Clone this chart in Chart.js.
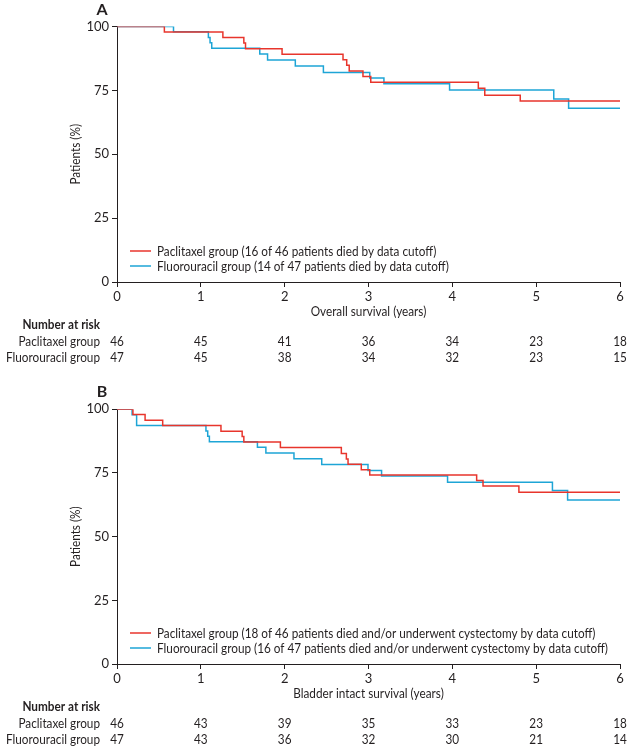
<!DOCTYPE html>
<html>
<head>
<meta charset="utf-8">
<script src="https://cdn.jsdelivr.net/npm/chart.js@4.4.0/dist/chart.umd.min.js"></script>
<style>
  body { margin: 0; background: #fff; width: 630px; height: 750px; overflow: hidden; }
  .panel { position: absolute; left: 0; width: 630px; height: 375px; }
</style>
</head>
<body>
<div class="panel" style="top:0"><canvas id="chartA" width="630" height="375"></canvas></div>
<div class="panel" style="top:375px"><canvas id="chartB" width="630" height="375"></canvas></div>
<script>
// years on the x axis, also the positions of the risk table columns
const years = [0, 1, 2, 3, 4, 5, 6];
const groups = ['Paclitaxel group', 'Fluorouracil group'];

// A: overall survival (time in years, % surviving after the step)
const osPacTime = [0, 0.565, 1.263, 1.513, 1.533, 1.969, 2.696, 2.74, 2.77, 2.934, 3.027, 4.31, 4.387, 4.81, 6];
const osPacPct  = [100, 97.8, 95.7, 93.5, 91.3, 89.1, 87.0, 84.8, 82.6, 80.4, 78.2, 75.8, 73.1, 70.8, 70.8];
const osFluTime = [0, 0.674, 1.09, 1.11, 1.13, 1.703, 1.796, 2.127, 2.462, 3.015, 3.184, 3.967, 5.21, 5.387, 6];
const osFluPct  = [100, 97.9, 95.7, 93.6, 91.5, 89.2, 86.9, 84.5, 82.0, 79.8, 77.6, 75.1, 71.6, 68.0, 68.0];
const osRiskPac = [46, 45, 41, 36, 34, 23, 18];
const osRiskFlu = [47, 45, 38, 34, 32, 23, 15];
const osLegend = [
  'Paclitaxel group (16 of 46 patients died by data cutoff)',
  'Fluorouracil group (14 of 47 patients died by data cutoff)'
];

// B: bladder intact survival
const biPacTime = [0, 0.19, 0.335, 0.545, 1.24, 1.493, 1.513, 1.949, 2.676, 2.736, 2.756, 2.914, 3.015, 4.29, 4.366, 4.794, 6];
const biPacPct  = [100, 98.0, 95.7, 93.6, 91.4, 89.3, 87.2, 85.0, 82.6, 80.5, 78.4, 76.3, 74.2, 72.0, 69.9, 67.4, 67.4];
const biFluTime = [0, 0.18, 0.234, 1.061, 1.082, 1.102, 1.675, 1.776, 2.111, 2.442, 2.994, 3.156, 3.943, 5.194, 5.375, 6];
const biFluPct  = [100, 97.9, 93.6, 91.5, 89.4, 87.3, 85.1, 82.8, 80.6, 78.3, 76.0, 73.8, 71.4, 68.1, 64.4, 64.4];
const biRiskPac = [46, 43, 39, 35, 33, 23, 18];
const biRiskFlu = [47, 43, 36, 32, 30, 21, 14];
const biLegend = [
  'Paclitaxel group (18 of 46 patients died and/or underwent cystectomy by data cutoff)',
  'Fluorouracil group (16 of 47 patients died and/or underwent cystectomy by data cutoff)'
];

const RED = '#e8352c';
const BLUE = '#1ea5d6';
const INK = '#231f20';
const FONT = 'Lato, sans-serif';
const FS = 14;
const SQUEEZE = 0.84; // the original uses a condensed face

function toPoints(times, pct) {
  return times.map((t, i) => ({ x: t, y: pct[i] }));
}

// text drawn a bit narrower, like a condensed font
function narrowText(ctx, txt, x, y, rot) {
  ctx.save();
  ctx.translate(x, y);
  if (rot) ctx.rotate(rot);
  ctx.scale(SQUEEZE, 1);
  ctx.fillText(txt, 0, 0);
  ctx.restore();
}

// draws letter, axis titles, legend and the number-at-risk table
const kmExtras = {
  id: 'kmExtras',
  afterDraw(chart, args, opts) {
    const { ctx, chartArea: { left, right, top, bottom }, scales: { x } } = chart;
    ctx.save();
    ctx.fillStyle = INK;
    ctx.textBaseline = 'middle';

    ctx.font = `bold 16px ${FONT}`;
    ctx.textAlign = 'center';
    ctx.fillText(opts.letter, 102, top - 17);

    ctx.font = `${FS}px ${FONT}`;
    narrowText(ctx, 'Patients (%)', 75, (top + bottom) / 2, -Math.PI / 2);
    narrowText(ctx, opts.xTitle, (left + right) / 2, bottom + 29);

    // legend inside the plot
    ctx.textAlign = 'left';
    const colors = [RED, BLUE];
    opts.legend.forEach((txt, i) => {
      const y = bottom - 31 + i * 15;
      ctx.strokeStyle = colors[i];
      ctx.lineWidth = 1.5;
      ctx.beginPath();
      ctx.moveTo(130, y);
      ctx.lineTo(151, y);
      ctx.stroke();
      narrowText(ctx, txt, 157, y);
    });

    // number at risk
    ctx.textAlign = 'right';
    ctx.font = `bold ${FS}px ${FONT}`;
    narrowText(ctx, 'Number at risk', 100, bottom + 42);
    ctx.font = `${FS}px ${FONT}`;
    const rows = [opts.riskPac, opts.riskFlu];
    rows.forEach((row, r) => {
      const y = bottom + 59 + r * 16;
      ctx.textAlign = 'right';
      narrowText(ctx, groups[r], 100, y);
      ctx.textAlign = 'center';
      row.forEach((n, i) => narrowText(ctx, String(n), x.getPixelForValue(years[i]), y));
    });
    ctx.restore();
  }
};

function makePanel(id, cfg) {
  return new Chart(document.getElementById(id), {
    type: 'line',
    data: {
      datasets: [
        { label: groups[0], data: toPoints(cfg.pacTime, cfg.pacPct), borderColor: RED },
        { label: groups[1], data: toPoints(cfg.fluTime, cfg.fluPct), borderColor: BLUE }
      ]
    },
    options: {
      responsive: false,
      animation: false,
      devicePixelRatio: 1,
      layout: { padding: { left: 0, right: 10, top: cfg.top, bottom: 0 } },
      elements: {
        line: { borderWidth: 1.5, stepped: true, fill: false, tension: 0 },
        point: { radius: 0 }
      },
      scales: {
        x: {
          type: 'linear', min: 0, max: 6,
          ticks: { stepSize: 1, color: INK, font: { family: FONT, size: 13 }, padding: 2, maxRotation: 0 },
          grid: { drawOnChartArea: false, drawTicks: true, tickLength: 5, color: INK },
          border: { color: INK, width: 1 },
          afterFit(scale) { scale.height = cfg.xHeight; }
        },
        y: {
          min: 0, max: 100,
          ticks: { stepSize: 25, color: INK, font: { family: FONT, size: 13 }, padding: 3 },
          grid: { drawOnChartArea: false, drawTicks: true, tickLength: 5, color: INK },
          border: { color: INK, width: 1 },
          afterFit(scale) { scale.width = 117; }
        }
      },
      plugins: {
        legend: { display: false },
        tooltip: { enabled: false },
        kmExtras: cfg.extras
      }
    },
    plugins: [kmExtras]
  });
}

makePanel('chartA', {
  pacTime: osPacTime, pacPct: osPacPct, fluTime: osFluTime, fluPct: osFluPct,
  top: 26.5, xHeight: 93,
  extras: { letter: 'A', xTitle: 'Overall survival (years)', legend: osLegend, riskPac: osRiskPac, riskFlu: osRiskFlu }
});

makePanel('chartB', {
  pacTime: biPacTime, pacPct: biPacPct, fluTime: biFluTime, fluPct: biFluPct,
  top: 34.3, xHeight: 86,
  extras: { letter: 'B', xTitle: 'Bladder intact survival (years)', legend: biLegend, riskPac: biRiskPac, riskFlu: biRiskFlu }
});
</script>
</body>
</html>
